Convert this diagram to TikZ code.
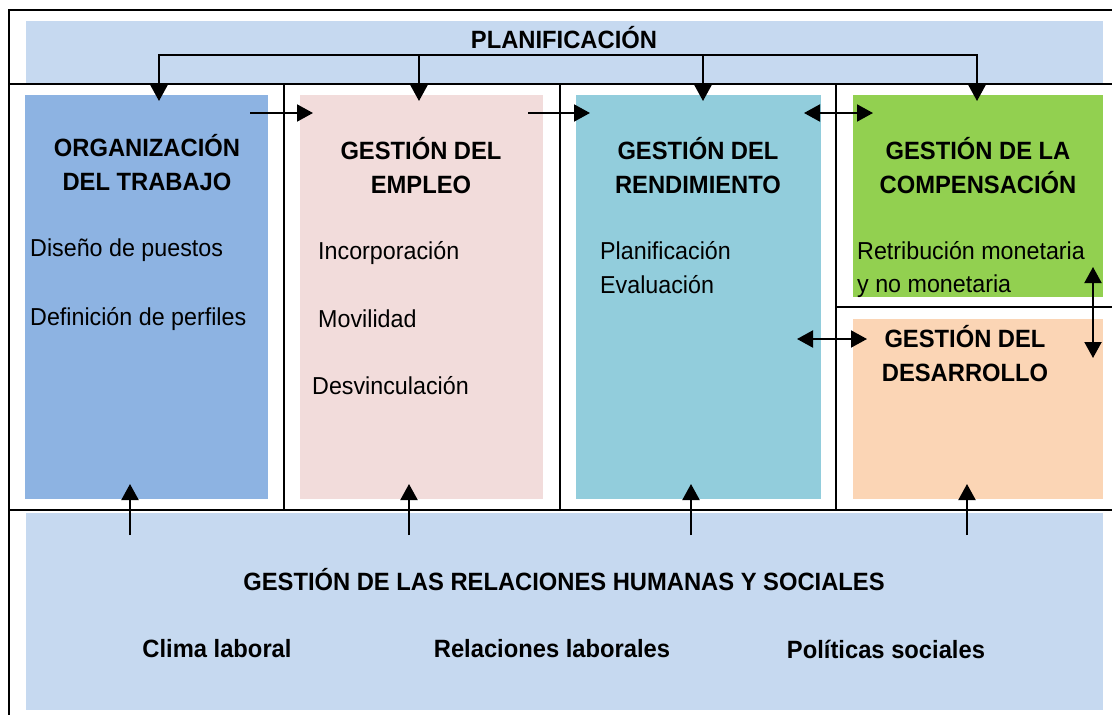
\documentclass[tikz,border=0pt]{standalone}
\usepackage{fontspec}
\setmainfont{Liberation Sans}[FakeStretch=0.95]
\usetikzlibrary{arrows.meta,positioning}

\definecolor{bandblue}{HTML}{C6D9F0}
\definecolor{orgblue}{HTML}{8DB3E2}
\definecolor{emppink}{HTML}{F2DCDB}
\definecolor{renteal}{HTML}{92CDDC}
\definecolor{compgreen}{HTML}{92D050}
\definecolor{despeach}{HTML}{FBD5B5}

\begin{document}
\begin{tikzpicture}[
    x=1pt, y=-1pt,
    area/.style={anchor=north west, inner sep=0pt, outer sep=0pt},
    heading/.style={font=\fontsize{25}{34}\selectfont\bfseries, align=center, inner sep=0pt},
    entry/.style={font=\fontsize{24.5}{34}\selectfont, anchor=base west, inner sep=0pt},
    frameline/.style={line width=1.6pt},
    link/.style={line width=2pt, -{Triangle[length=16pt,width=17pt]}},
    twoway/.style={line width=2pt, {Triangle[length=16pt,width=17pt]}-{Triangle[length=16pt,width=17pt]}},
  ]
  \useasboundingbox (0,0) rectangle (1112,715);

  % bands and areas
  \node[area, fill=bandblue, minimum width=1077pt, minimum height=62pt] (plan) at (26,21) {};
  \node[area, fill=bandblue, minimum width=1077pt, minimum height=197pt] (rel) at (26,513) {};
  \node[area, fill=orgblue, minimum width=243pt, minimum height=404pt] (org) at (25,95) {};
  \node[area, fill=emppink, minimum width=243pt, minimum height=404pt] (emp) at (300,95) {};
  \node[area, fill=renteal, minimum width=245pt, minimum height=404pt] (ren) at (576,95) {};
  \node[area, fill=compgreen, minimum width=250pt, minimum height=202pt] (comp) at (853,95) {};
  \node[area, fill=despeach, minimum width=250pt, minimum height=180pt] (des) at (853,319) {};

  % frame
  \begin{scope}[frameline]
    \draw (1112,10) -- (9,10) -- (9,715);
    \draw (9,84) -- (1112,84);
    \draw (9,510) -- (1112,510);
    \draw (836,307) -- (1112,307);
    \foreach \x in {284,560,836}
      \draw (\x,84) -- (\x,510);
  \end{scope}

  % titles
  \node[heading] (planT) at (564,38) {PLANIFICACIÓN};
  \node[heading] (orgT) at (147,163) {ORGANIZACIÓN\\DEL TRABAJO};
  \node[heading] (empT) at (421,166) {GESTIÓN DEL\\EMPLEO};
  \node[heading] (renT) at (698,166) {GESTIÓN DEL\\RENDIMIENTO};
  \node[heading] (compT) at (978,166) {GESTIÓN DE LA\\COMPENSACIÓN};
  \node[heading] (desT) at (965,354) {GESTIÓN DEL\\DESARROLLO};
  \node[heading] (relT) at (564,580) {GESTIÓN DE LAS RELACIONES HUMANAS Y SOCIALES};

  % entries
  \node[entry] (org1) at (30,256) {Diseño de puestos};
  \node[entry] (org2) at (30,325) {Definición de perfiles};
  \node[entry] (emp1) at (318,259) {Incorporación};
  \node[entry] (emp2) at (318,327) {Movilidad};
  \node[entry] (emp3) at (312,394) {Desvinculación};
  \node[entry] (ren1) at (600,259) {Planificación};
  \node[entry] (ren2) at (600,293) {Evaluación};
  \node[entry] (comp1) at (857,259) {Retribución monetaria};
  \node[entry] (comp2) at (857,292) {y no monetaria};
  \node[heading] (rel1) at (217,649) {Clima laboral};
  \node[heading] (rel2) at (552,649) {Relaciones laborales};
  \node[heading] (rel3) at (886,649) {Políticas sociales};

  % planning bracket
  \draw[line width=2pt] (159,55) -- (977,55);
  \foreach \x [count=\i] in {159,419,703,977} {
    \coordinate (bar\i) at (\x,54);
    \coordinate (top\i) at (\x,101);
    \draw[link] (bar\i) -- (top\i);
  }

  % links between areas
  \coordinate (a1) at (250,113);  \coordinate (b1) at (313,113);
  \coordinate (a2) at (528,113);  \coordinate (b2) at (590,113);
  \coordinate (a3) at (804,113);  \coordinate (b3) at (873,113);
  \coordinate (a4) at (797,339);  \coordinate (b4) at (867,339);
  \coordinate (a5) at (1093,267); \coordinate (b5) at (1093,358);
  \draw[link] (a1) -- (b1);
  \draw[link] (a2) -- (b2);
  \draw[twoway] (a3) -- (b3);
  \draw[twoway] (a4) -- (b4);
  \draw[twoway] (a5) -- (b5);

  % relations feed every area
  \foreach \x [count=\i] in {130,409,691,967} {
    \coordinate (low\i) at (\x,535);
    \coordinate (up\i) at (\x,484);
    \draw[link] (low\i) -- (up\i);
  }
\end{tikzpicture}
\end{document}
